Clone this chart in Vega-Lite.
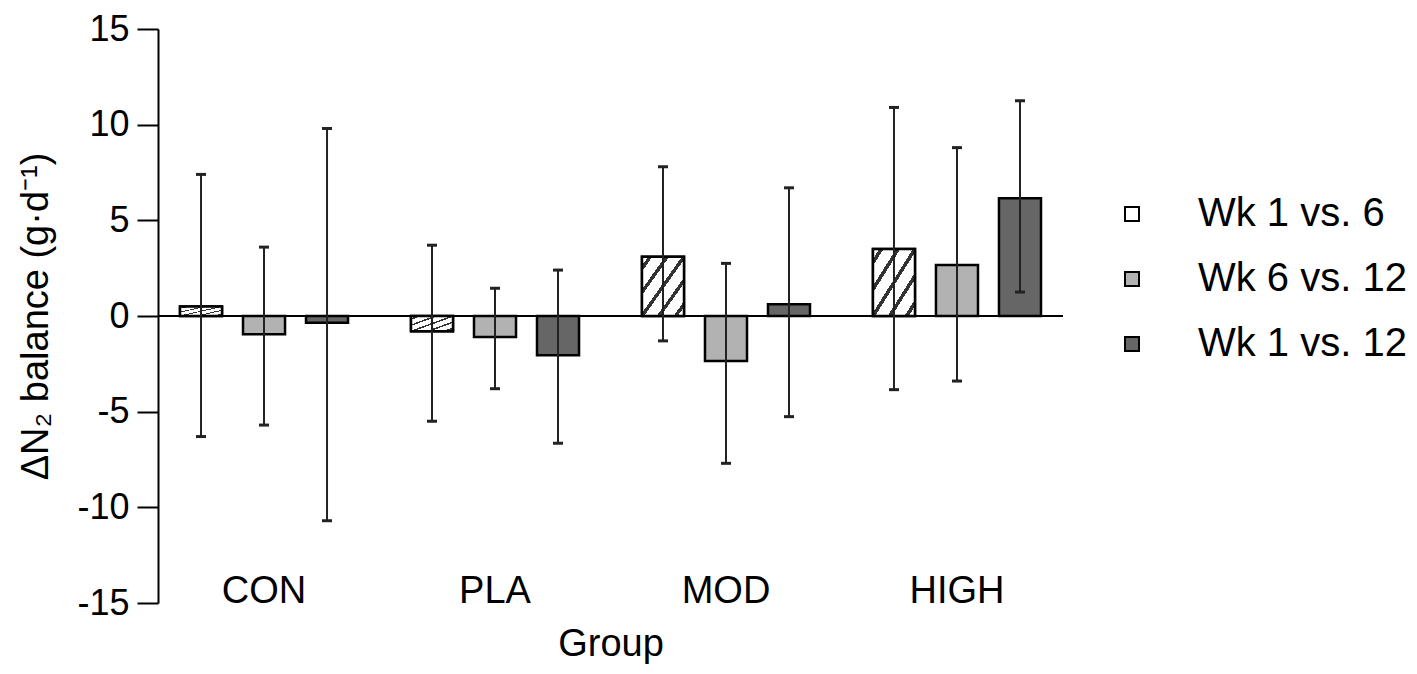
{
  "$schema": "https://vega.github.io/schema/vega-lite/v6.json",
  "width": 905,
  "height": 574,
  "autosize": {"type": "none"},
  "padding": {"left": 158, "top": 29, "right": 354, "bottom": 71},
  "background": "white",
  "config": {
    "view": {"stroke": null},
    "font": "Liberation Sans",
    "axis": {"labelFont": "Liberation Sans", "titleFont": "Liberation Sans", "labelColor": "black", "titleColor": "black", "titleFontWeight": "normal", "grid": false}
  },
  "data": {
    "values": [
      {"group": "CON", "period": "Wk 1 vs. 6", "mean": 0.5, "lo": -6.3, "hi": 7.4},
      {"group": "CON", "period": "Wk 6 vs. 12", "mean": -0.95, "lo": -5.7, "hi": 3.6},
      {"group": "CON", "period": "Wk 1 vs. 12", "mean": -0.35, "lo": -10.7, "hi": 9.8},
      {"group": "PLA", "period": "Wk 1 vs. 6", "mean": -0.8, "lo": -5.5, "hi": 3.7},
      {"group": "PLA", "period": "Wk 6 vs. 12", "mean": -1.1, "lo": -3.8, "hi": 1.45},
      {"group": "PLA", "period": "Wk 1 vs. 12", "mean": -2.05, "lo": -6.65, "hi": 2.4},
      {"group": "MOD", "period": "Wk 1 vs. 6", "mean": 3.1, "lo": -1.3, "hi": 7.8},
      {"group": "MOD", "period": "Wk 6 vs. 12", "mean": -2.35, "lo": -7.7, "hi": 2.75},
      {"group": "MOD", "period": "Wk 1 vs. 12", "mean": 0.62, "lo": -5.26, "hi": 6.7},
      {"group": "HIGH", "period": "Wk 1 vs. 6", "mean": 3.5, "lo": -3.85, "hi": 10.9},
      {"group": "HIGH", "period": "Wk 6 vs. 12", "mean": 2.66, "lo": -3.4, "hi": 8.8},
      {"group": "HIGH", "period": "Wk 1 vs. 12", "mean": 6.15, "lo": 1.25, "hi": 11.25}
    ]
  },
  "layer": [
    {
      "mark": {"type": "bar", "stroke": "black", "strokeWidth": 2.5},
      "encoding": {
        "x": {
          "field": "group", "type": "nominal",
          "scale": {"domain": ["CON", "PLA", "MOD", "HIGH"], "paddingInner": 0.2, "paddingOuter": 0.059},
          "axis": {"title": "Group", "titleFontSize": 38, "titleBaseline": "alphabetic", "titleY": 52, "labelFontSize": 38, "labelAngle": 0, "labelBaseline": "alphabetic", "labelPadding": -1, "ticks": false, "tickSize": 0, "domain": false}
        },
        "xOffset": {
          "field": "period", "type": "nominal",
          "scale": {"domain": ["Wk 1 vs. 6", "Wk 6 vs. 12", "Wk 1 vs. 12"], "paddingInner": 0.333, "paddingOuter": 0.133}
        },
        "y": {
          "field": "mean", "type": "quantitative",
          "scale": {"domain": [-15, 15], "nice": false},
          "title": "ΔN₂ balance (g·d⁻¹)",
          "axis": {"values": [-15, -10, -5, 0, 5, 10, 15], "labelExpr": "'' + datum.value", "labelFontSize": 36, "labelPadding": 8, "tickSize": 21, "tickWidth": 2, "tickColor": "black", "domainColor": "black", "domainWidth": 2, "titleFontSize": 38, "titleX": -111, "titleY": 287, "titleBaseline": "alphabetic", "titleAlign": "center"}
        },
        "fill": {
          "field": "period", "type": "nominal",
          "scale": {"domain": ["Wk 1 vs. 6", "Wk 6 vs. 12", "Wk 1 vs. 12"], "range": ["#ffffff", "#b2b2b2", "#666666"]},
          "legend": {
            "title": null, "orient": "none", "legendX": 954, "legendY": 165,
            "symbolType": "square", "symbolSize": 196, "symbolStrokeColor": "black", "symbolStrokeWidth": 2,
            "labelFontSize": 40, "labelFont": "Liberation Sans", "labelColor": "black", "labelOffset": 46,
            "rowPadding": 25, "padding": 0, "labelLimit": 400,
            "encode": {"symbols": {"update": {"stroke": {"value": "black"}, "strokeWidth": {"value": 2}}}}
          }
        }
      }
    },
    {
      "transform": [{"filter": "datum.period === 'Wk 1 vs. 6'"}],
      "mark": {
        "type": "bar", "stroke": "black", "strokeWidth": 2.5,
        "fill": {
          "gradient": "linear", "x1": 0, "y1": 0, "x2": 1, "y2": 1,
          "stops": [
            {"offset": 0, "color": "#ffffff"},
            {"offset": 0.075, "color": "#ffffff"}, {"offset": 0.075, "color": "#333333"}, {"offset": 0.125, "color": "#333333"}, {"offset": 0.125, "color": "#ffffff"},
            {"offset": 0.275, "color": "#ffffff"}, {"offset": 0.275, "color": "#333333"}, {"offset": 0.325, "color": "#333333"}, {"offset": 0.325, "color": "#ffffff"},
            {"offset": 0.475, "color": "#ffffff"}, {"offset": 0.475, "color": "#333333"}, {"offset": 0.525, "color": "#333333"}, {"offset": 0.525, "color": "#ffffff"},
            {"offset": 0.675, "color": "#ffffff"}, {"offset": 0.675, "color": "#333333"}, {"offset": 0.725, "color": "#333333"}, {"offset": 0.725, "color": "#ffffff"},
            {"offset": 0.875, "color": "#ffffff"}, {"offset": 0.875, "color": "#333333"}, {"offset": 0.925, "color": "#333333"}, {"offset": 0.925, "color": "#ffffff"},
            {"offset": 1, "color": "#ffffff"}
          ]
        }
      },
      "encoding": {
        "x": {"field": "group", "type": "nominal"},
        "xOffset": {"field": "period", "type": "nominal"},
        "y": {"field": "mean", "type": "quantitative", "title": "ΔN₂ balance (g·d⁻¹)"}
      }
    },
    {
      "mark": {"type": "rule", "stroke": "black", "strokeWidth": 2},
      "encoding": {
        "y": {"datum": 0, "type": "quantitative", "title": "ΔN₂ balance (g·d⁻¹)"}
      }
    },
    {
      "mark": {"type": "rule", "stroke": "#222222", "strokeWidth": 2},
      "encoding": {
        "x": {"field": "group", "type": "nominal"},
        "xOffset": {"field": "period", "type": "nominal"},
        "y": {"field": "lo", "type": "quantitative", "title": "ΔN₂ balance (g·d⁻¹)"},
        "y2": {"field": "hi"}
      }
    },
    {
      "mark": {"type": "tick", "orient": "horizontal", "color": "#222222", "size": 10, "thickness": 3, "opacity": 1},
      "encoding": {
        "x": {"field": "group", "type": "nominal"},
        "xOffset": {"field": "period", "type": "nominal"},
        "y": {"field": "hi", "type": "quantitative", "title": "ΔN₂ balance (g·d⁻¹)"}
      }
    },
    {
      "mark": {"type": "tick", "orient": "horizontal", "color": "#222222", "size": 10, "thickness": 3, "opacity": 1},
      "encoding": {
        "x": {"field": "group", "type": "nominal"},
        "xOffset": {"field": "period", "type": "nominal"},
        "y": {"field": "lo", "type": "quantitative", "title": "ΔN₂ balance (g·d⁻¹)"}
      }
    }
  ]
}
